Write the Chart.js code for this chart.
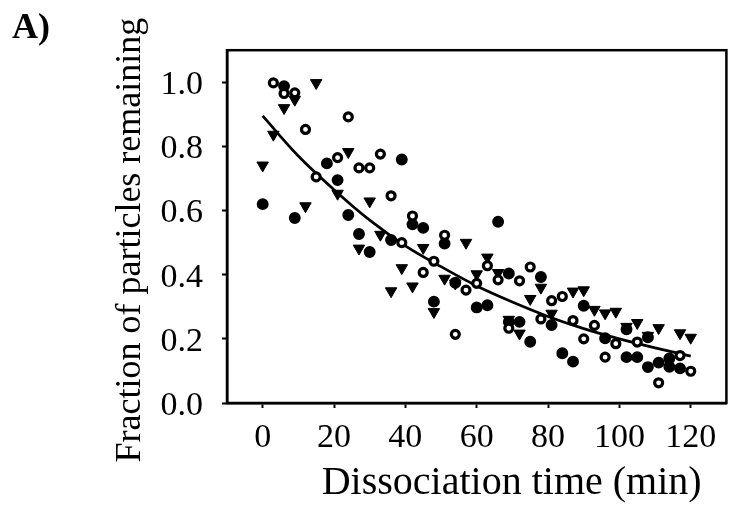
<!DOCTYPE html>
<html><head><meta charset="utf-8">
<script src="https://cdn.jsdelivr.net/npm/chart.js@4.4.1/dist/chart.umd.min.js"></script>
<style>html,body{margin:0;padding:0;background:#fff;}</style>
</head><body>
<canvas id="c" width="734" height="518" style="display:block;width:734px;height:518px"></canvas>
<script>
// ---- data ----
const xTickValues = [0, 20, 40, 60, 80, 100, 120];
const yTickValues = [0.0, 0.2, 0.4, 0.6, 0.8, 1.0];

const filledTime  = [0, 6, 9, 18, 21, 24, 27, 30, 36, 39, 42, 45, 48, 51, 54, 60, 63, 66, 69, 69, 72, 75, 78, 81, 84, 87, 90, 96, 102, 102, 105, 108, 108, 111, 114, 114, 117];
const filledValue = [0.62, 0.988, 0.577, 0.747, 0.695, 0.586, 0.527, 0.471, 0.508, 0.759, 0.557, 0.546, 0.316, 0.497, 0.375, 0.298, 0.305, 0.565, 0.404, 0.253, 0.253, 0.191, 0.393, 0.243, 0.155, 0.129, 0.303, 0.202, 0.230, 0.143, 0.143, 0.205, 0.112, 0.126, 0.139, 0.113, 0.108];

const openTime  = [3, 6, 9, 12, 15, 21, 24, 27, 30, 33, 36, 39, 42, 45, 48, 51, 54, 57, 60, 63, 66, 69, 72, 75, 78, 81, 84, 87, 90, 93, 96, 99, 105, 111, 117, 120];
const openValue = [0.998, 0.965, 0.967, 0.853, 0.705, 0.765, 0.892, 0.733, 0.733, 0.776, 0.646, 0.50, 0.583, 0.407, 0.442, 0.523, 0.214, 0.352, 0.373, 0.428, 0.384, 0.233, 0.381, 0.424, 0.262, 0.319, 0.332, 0.257, 0.20, 0.242, 0.143, 0.185, 0.19, 0.063, 0.148, 0.099];

const triTime  = [0, 3, 6, 9, 12, 15, 21, 24, 27, 30, 33, 36, 39, 42, 45, 48, 51, 54, 57, 60, 63, 66, 69, 72, 75, 78, 81, 87, 90, 93, 96, 99, 102, 105, 108, 111, 117, 120];
const triValue = [0.741, 0.837, 0.92, 0.946, 0.614, 0.998, 0.653, 0.783, 0.482, 0.629, 0.525, 0.349, 0.421, 0.364, 0.484, 0.284, 0.388, 0.373, 0.50, 0.402, 0.454, 0.406, 0.26, 0.217, 0.325, 0.36, 0.279, 0.348, 0.352, 0.291, 0.28, 0.285, 0.238, 0.25, 0.21, 0.234, 0.218, 0.204];

const fitTime  = [0, 10, 20, 30, 40, 50, 60, 70, 80, 90, 100, 110, 120];
const fitValue = [0.895, 0.77, 0.665, 0.57, 0.49, 0.425, 0.365, 0.315, 0.27, 0.232, 0.2, 0.172, 0.146];

const xTitle = 'Dissociation time (min)';
const yTitle = 'Fraction of particles remaining';
const panelLabel = 'A)';

const pts = (xs, ys) => xs.map((x, i) => ({x: x, y: ys[i]}));
const SERIF = "'Liberation Serif', 'Times New Roman', serif";

const framePlugin = {
  id: 'frame',
  afterDraw(chart) {
    const {ctx, chartArea: a} = chart;
    ctx.save();
    ctx.strokeStyle = '#000';
    ctx.lineWidth = 2.5;
    ctx.strokeRect(a.left, a.top, a.right - a.left, a.bottom - a.top);
    ctx.restore();
  }
};

new Chart(document.getElementById('c'), {
  type: 'scatter',
  data: {
    datasets: [
      { label: 'fit', data: pts(fitTime, fitValue), showLine: true, cubicInterpolationMode: 'monotone',
        borderColor: '#000', borderWidth: 2.7, pointRadius: 0, fill: false, order: 3 },
      { label: 'filled', data: pts(filledTime, filledValue), pointStyle: 'circle', pointRadius: 5.2,
        backgroundColor: '#000', borderColor: '#000', borderWidth: 1.5, order: 2 },
      { label: 'triangle', data: pts(triTime, triValue), pointStyle: 'triangle', rotation: 180, pointRadius: 6.6,
        backgroundColor: '#000', borderColor: '#000', borderWidth: 1, order: 1 },
      { label: 'open', data: pts(openTime, openValue), pointStyle: 'circle', pointRadius: 4,
        backgroundColor: '#fff', borderColor: '#000', borderWidth: 3.2, order: 0 }
    ]
  },
  options: {
    responsive: false,
    animation: false,
    devicePixelRatio: 1,
    layout: { padding: { left: 12, right: 2, top: 0, bottom: 0 } },
    plugins: {
      legend: { display: false },
      tooltip: { enabled: false },
      title: { display: true, text: panelLabel, align: 'start', color: '#000',
        font: { family: SERIF, size: 36, weight: 'bold' }, padding: { top: 7, bottom: 0 } }
    },
    scales: {
      x: {
        type: 'linear', min: -10, max: 130,
        afterBuildTicks: s => { s.ticks = xTickValues.map(v => ({value: v})); },
        afterFit: s => { s.height = 115; },
        ticks: { color: '#000', font: { family: SERIF, size: 34 }, padding: 10, maxRotation: 0, autoSkip: false },
        grid: { drawOnChartArea: false, drawTicks: true, tickLength: 5, tickWidth: 2, color: '#000' },
        border: { display: true, color: '#000', width: 2.5 },
        title: { display: true, text: '       ' + xTitle, color: '#000',
          font: { family: SERIF, size: 40 }, padding: { top: 0, bottom: 11 } }
      },
      y: {
        type: 'linear', min: 0, max: 1.1,
        afterBuildTicks: s => { s.ticks = yTickValues.map(v => ({value: v})); },
        afterFit: s => { s.width = 215; },
        ticks: { color: '#000', font: { family: SERIF, size: 34 }, padding: 19, labelOffset: 3,
          callback: v => Number(v).toFixed(1) },
        grid: { drawOnChartArea: false, drawTicks: true, tickLength: 5, tickWidth: 2, color: '#000' },
        border: { display: true, color: '#000', width: 2.5 },
        title: { display: true, text: yTitle + '   ', color: '#000',
          font: { family: SERIF, size: 36 }, padding: { top: 97, bottom: 0 } }
      }
    }
  },
  plugins: [framePlugin]
});
</script>
</body></html>
